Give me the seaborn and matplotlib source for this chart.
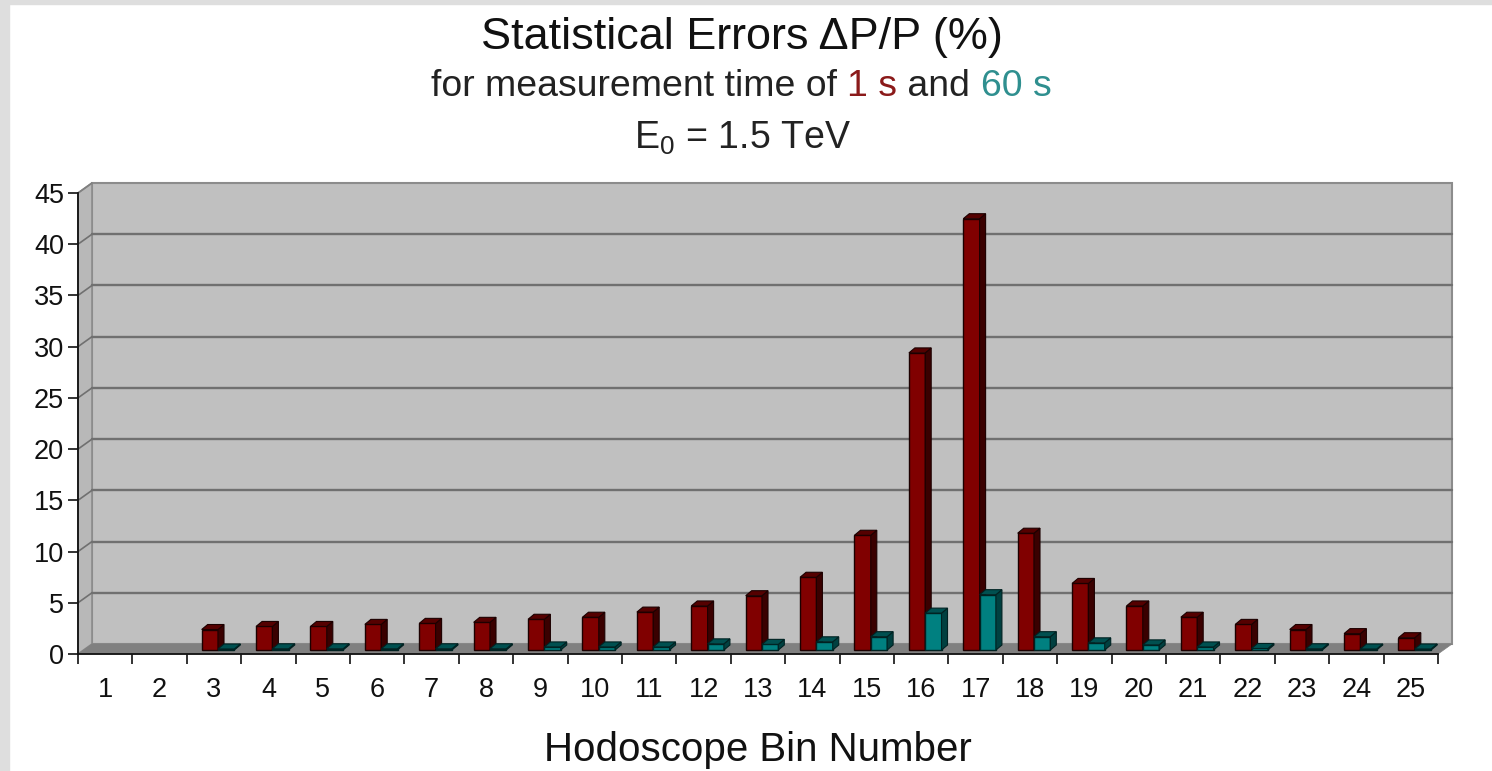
import numpy as np
import pandas as pd
import seaborn as sns
import matplotlib.pyplot as plt
from matplotlib.patches import Polygon, Rectangle

bins = [str(i) for i in range(1, 26)]
err_1s = [np.nan, np.nan, 2.0, 2.3, 2.3, 2.5, 2.6, 2.7, 3.0, 3.2, 3.7, 4.3, 5.3,
          7.1, 11.2, 29.0, 42.1, 11.4, 6.5, 4.3, 3.2, 2.5, 2.0, 1.6, 1.2]
err_60s = [np.nan, np.nan, 0.1, 0.12, 0.12, 0.12, 0.12, 0.12, 0.3, 0.3, 0.3, 0.6, 0.55,
           0.8, 1.3, 3.6, 5.4, 1.3, 0.7, 0.5, 0.3, 0.15, 0.12, 0.1, 0.1]
y_ticks = [0, 5, 10, 15, 20, 25, 30, 35, 40, 45]

W, H = 1492, 771
RED, TEAL = "#800000", "#008080"

sns.set_style("white")
plt.rcParams["font.family"] = ["Liberation Sans", "DejaVu Sans"]
plt.rcParams["mathtext.fontset"] = "custom"
plt.rcParams["mathtext.rm"] = "Liberation Sans"
plt.rcParams["mathtext.default"] = "regular"

fig = plt.figure(figsize=(W / 100, H / 100), dpi=100)
fig.patch.set_facecolor("white")
fig.add_artist(Rectangle((0, 0), 9 / W, 1, transform=fig.transFigure, color="#dedede"))
fig.add_artist(Rectangle((0, 1 - 4 / H), 1, 4 / H, transform=fig.transFigure, color="#dedede"))

ax = fig.add_axes([78 / W, 1 - 654 / H, 1360 / W, 461 / H])
ax.patch.set_visible(False)

df = pd.DataFrame({
    "bin": bins * 2,
    "err": err_1s + err_60s,
    "time": ["1 s"] * len(bins) + ["60 s"] * len(bins),
})
sns.barplot(data=df, x="bin", y="err", hue="time", order=bins,
            palette=[RED, TEAL], width=0.6, gap=0, saturation=1,
            errorbar=None, legend=False, edgecolor="#300000", linewidth=1, ax=ax)
bars = list(ax.patches)

ax.set_xlim(-0.5, 24.5)
ax.set_ylim(0, 45)
px = 1360 / 25
py = 461 / 45

# pseudo 3D box: offsets of the back wall and of the bar planes
wall_dx, wall_dy = 14 / px, 10 / py
bar_dx, bar_dy = 4 / px, 4 / py
depth_x, depth_y = 6 / px, 5 / py
x0, x1 = -0.5, 24.5

ax.add_patch(Polygon([(x0 + wall_dx, wall_dy), (x1 + wall_dx, wall_dy),
                      (x1 + wall_dx, 45 + wall_dy), (x0 + wall_dx, 45 + wall_dy)],
                     fc="#c0c0c0", ec="#8c8c8c", lw=1.5, clip_on=False, zorder=0))
ax.add_patch(Polygon([(x0, 0), (x0 + wall_dx, wall_dy), (x0 + wall_dx, 45 + wall_dy), (x0, 45)],
                     fc="#b8b8b8", ec="#8c8c8c", lw=1.2, clip_on=False, zorder=0.5))
ax.add_patch(Polygon([(x0, 0), (x1, 0), (x1 + wall_dx, wall_dy), (x0 + wall_dx, wall_dy)],
                     fc="#808080", ec="#808080", lw=0.5, clip_on=False, zorder=0.6))
for v in y_ticks[1:-1]:
    ax.plot([x0 + wall_dx, x1 + wall_dx], [v + wall_dy, v + wall_dy], color="#707070", lw=1.7,
            clip_on=False, zorder=1)
    ax.plot([x0, x0 + wall_dx], [v, v + wall_dy], color="#707070", lw=1.2, clip_on=False, zorder=1)
ax.plot([x0, x0 + wall_dx], [45, 45 + wall_dy], color="#808080", lw=1.2, clip_on=False, zorder=1)

# faces of each bar come from the patches seaborn made
for bar in bars:
    h = bar.get_height()
    if not np.isfinite(h) or h <= 0:
        continue
    is_red = bar.get_facecolor()[0] > bar.get_facecolor()[1]
    z = 3 if is_red else 4
    side = "#3a0000" if is_red else "#004040"
    top = "#550000" if is_red else "#005050"
    edge = "#1c0000" if is_red else "#002222"
    bar.set_x(bar.get_x() + bar_dx)
    bar.set_y(bar_dy)
    bar.set_edgecolor(edge)
    bar.set_zorder(z)
    xl, xr = bar.get_x(), bar.get_x() + bar.get_width()
    yb, yt = bar_dy, bar_dy + h
    ax.add_patch(Polygon([(xr, yb), (xr + depth_x, yb + depth_y), (xr + depth_x, yt + depth_y), (xr, yt)],
                         fc=side, ec=edge, lw=0.8, zorder=z, clip_on=False))
    ax.add_patch(Polygon([(xl, yt), (xr, yt), (xr + depth_x, yt + depth_y), (xl + depth_x, yt + depth_y)],
                         fc=top, ec=edge, lw=0.8, zorder=z, clip_on=False))

sns.despine(ax=ax, top=True, right=True)
for s in ["left", "bottom"]:
    ax.spines[s].set_color("#111111")
    ax.spines[s].set_linewidth(1.3)
    ax.spines[s].set_zorder(6)

ax.set_yticks(y_ticks)
ax.set_xticks(np.arange(-0.5, 25), minor=True)
ax.tick_params(axis="x", which="minor", bottom=True, length=7, width=1.2, color="#111111")
ax.tick_params(axis="x", which="major", bottom=False, labelsize=19.5, pad=13, labelcolor="#111111")
ax.tick_params(axis="y", left=True, length=7, width=1.2, color="#111111", labelsize=19.5, pad=3,
               labelcolor="#111111")
ax.set_xlabel("Hodoscope Bin Number", fontsize=29, color="#111111", labelpad=20)
ax.set_ylabel("")

fig.text(742 / W, 1 - 37 / H, "Statistical Errors \u0394P/P (%)", fontsize=32.4,
         ha="center", va="center", color="#111111")
fig.text(742 / W, 1 - 138 / H, "E$_0$ = 1.5 TeV", fontsize=27,
         ha="center", va="center", color="#222222")

# subtitle is put together from coloured pieces
pieces = [("for measurement time of ", "#222222"), ("1 s", "#8b1a1a"), (" and ", "#222222"),
          ("60 s", "#2f8f8f")]
fig.canvas.draw()
rend = fig.canvas.get_renderer()
x = 431
for txt, col in pieces:
    t = fig.text(x / W, 1 - 86 / H, txt.replace(" ", "\u00a0"), fontsize=26.9, ha="left", va="center",
                 color=col)
    x = t.get_window_extent(rend).x1

fig.savefig("out.png", dpi=100)
